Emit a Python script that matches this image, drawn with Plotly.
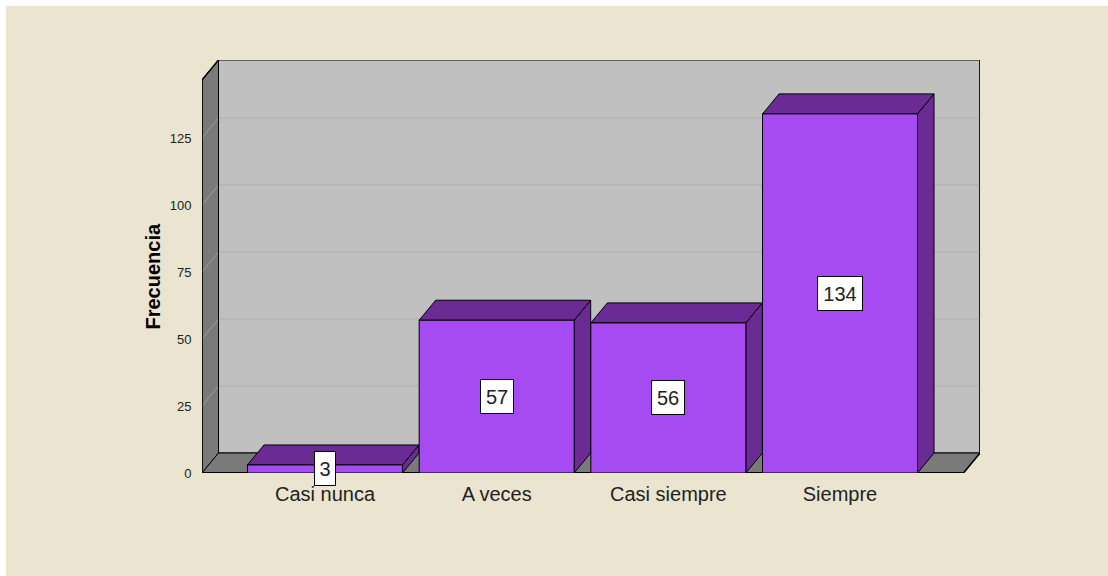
import plotly.graph_objects as go

# Frequency table
categories = ["Casi nunca", "A veces", "Casi siempre", "Siempre"]
frequencies = [3, 57, 56, 134]
y_ticks = [0, 25, 50, 75, 100, 125]

# Figure geometry (pixels)
W, H = 1108, 576
ML, MR, MT, MB = 202, 128, 60, 103
plot_w = W - ML - MR
plot_h = H - MT - MB

# Axis ranges chosen so one category step ~ 171.7 px and 25 units ~ 67 px
x_range = [-0.7165, 3.8155]
px_per_x = plot_w / (x_range[1] - x_range[0])
y_max = plot_h * 25 / 67
y_range = [0, y_max]
px_per_y = plot_h / y_max

# 3D depth offset (pixels -> data units)
DX = 16.5 / px_per_x
DY = 20 / px_per_y
front_top = y_max - DY          # top of the front y-axis edge
floor_right = x_range[1] - DX   # front right corner of the floor
x_left = x_range[0]
half = 0.4515                   # half bar width

FONT = "Arial, Liberation Sans"
BG = "#EBE4D1"
WALL = "#C0C0C0"
SIDE = "#7A7A7A"
FRONT = "#A64BF2"
SHADE = "#6A2C94"

fig = go.Figure()


def poly(xs, ys, fill, line_color="black", width=1):
    fig.add_trace(go.Scatter(
        x=list(xs) + [xs[0]], y=list(ys) + [ys[0]], mode="lines",
        fill="toself", fillcolor=fill,
        line=dict(color=line_color, width=width),
        hoverinfo="skip", showlegend=False))


def seg(xs, ys, color, width=1):
    fig.add_trace(go.Scatter(
        x=xs, y=ys, mode="lines", line=dict(color=color, width=width),
        hoverinfo="skip", showlegend=False))


# back wall
poly([x_left + DX, x_range[1], x_range[1], x_left + DX],
     [DY, DY, y_max, y_max], WALL)
# left side wall
poly([x_left, x_left + DX, x_left + DX, x_left],
     [0, DY, y_max, front_top], SIDE)
# floor
poly([x_left, floor_right, x_range[1], x_left + DX],
     [0, 0, DY, DY], SIDE)

# gridlines on the back wall and the side wall
for v in y_ticks[1:]:
    seg([x_left + DX, x_range[1]], [v + DY, v + DY], "#ADADAD")
    seg([x_left, x_left + DX], [v, v + DY], "#9C9C9C")

# edges drawn over the walls
seg([x_left, x_left], [0, front_top], "black", 1.5)
seg([x_left, floor_right], [0, 0], "black", 2)
seg([floor_right, x_range[1]], [0, DY], "black", 1.5)
seg([x_left, x_left + DX], [front_top, y_max], "black", 1.5)
seg([x_left + DX, x_left + DX], [DY, y_max], "black", 1)
seg([x_range[1], x_range[1]], [DY, y_max], "black", 1.5)

# bars
for i, v in enumerate(frequencies):
    xl, xr = i - half, i + half
    poly([xr, xr + DX, xr + DX, xr], [0, DY, v + DY, v], SHADE)
    poly([xl, xr, xr + DX, xl + DX], [v, v, v + DY, v + DY], SHADE)
    poly([xl, xr, xr, xl], [0, 0, v, v], FRONT)

# value labels
for i, v in enumerate(frequencies):
    fig.add_annotation(
        x=i, y=v / 2, xref="x", yref="y", text=str(v), showarrow=False,
        font=dict(family=FONT, size=20, color="#222222"),
        width=12 * len(str(v)) + 2, height=27,
        bgcolor="white", bordercolor="black", borderwidth=1, borderpad=3)

# y-axis title
fig.add_annotation(
    x=(139 - ML) / plot_w, y=front_top / 2 / y_max, xref="paper", yref="paper",
    text="<b>Frecuencia</b>", textangle=-90, showarrow=False,
    font=dict(family=FONT, size=20, color="black"))

# white strips along the top and left edges
fig.add_shape(type="rect", xref="paper", yref="paper", layer="below",
              x0=-ML / plot_w, x1=(W - ML) / plot_w,
              y0=(plot_h + MT - 6) / plot_h, y1=(plot_h + MT) / plot_h,
              fillcolor="white", line_width=0)
fig.add_shape(type="rect", xref="paper", yref="paper", layer="below",
              x0=-ML / plot_w, x1=(6 - ML) / plot_w,
              y0=-MB / plot_h, y1=(plot_h + MT) / plot_h,
              fillcolor="white", line_width=0)

fig.update_layout(
    width=W, height=H, margin=dict(l=ML, r=MR, t=MT, b=MB, pad=0),
    paper_bgcolor=BG, plot_bgcolor=BG, showlegend=False, hovermode=False,
    xaxis=dict(range=x_range, tickvals=list(range(len(categories))),
               ticktext=categories, showgrid=False, zeroline=False,
               showline=False, ticks="outside", ticklen=0,
               ticklabelstandoff=3,
               tickfont=dict(family=FONT, size=20, color="#222222")),
    yaxis=dict(range=y_range, tickvals=y_ticks, showgrid=False,
               zeroline=False, showline=False, ticks="outside", ticklen=0,
               ticklabelstandoff=7,
               tickfont=dict(family=FONT, size=13, color="#222222")),
)

fig.write_html("out.html")
